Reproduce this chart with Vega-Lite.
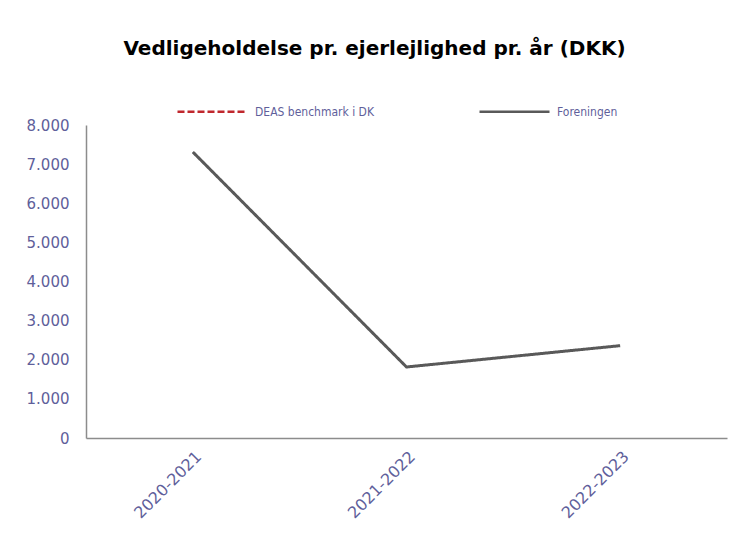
{
  "$schema": "https://vega.github.io/schema/vega-lite/v6.json",
  "width": 641,
  "height": 313,
  "autosize": "none",
  "padding": {"left": 86, "top": 125, "right": 9, "bottom": 96},
  "background": "white",
  "title": {
    "text": "Vedligeholdelse pr. ejerlejlighed pr. år (DKK)",
    "font": "DejaVu Sans",
    "fontSize": 20,
    "fontWeight": "bold",
    "color": "#000000",
    "anchor": "middle",
    "offset": 16,
    "dx": -32
  },
  "data": {
    "values": [
      {"periode": "2020-2021", "serie": "Foreningen", "vaerdi": 7310},
      {"periode": "2021-2022", "serie": "Foreningen", "vaerdi": 1815},
      {"periode": "2022-2023", "serie": "Foreningen", "vaerdi": 2360}
    ]
  },
  "mark": {"type": "line", "strokeWidth": 3},
  "encoding": {
    "x": {
      "field": "periode",
      "type": "ordinal",
      "scale": {"type": "point", "padding": 0.5},
      "axis": {
        "title": null,
        "labelAngle": -45,
        "labelFont": "DejaVu Sans",
        "labelFontSize": 16,
        "labelColor": "#5f5f9b",
        "ticks": false,
        "tickSize": 0,
        "labelPadding": 10,
        "domainColor": "#8c8c8c",
        "domainWidth": 1.5,
        "grid": false
      }
    },
    "y": {
      "field": "vaerdi",
      "type": "quantitative",
      "scale": {"domain": [0, 8000], "nice": false},
      "axis": {
        "title": null,
        "values": [0, 1000, 2000, 3000, 4000, 5000, 6000, 7000, 8000],
        "labelExpr": "replace(format(datum.value, ','), ',', '.')",
        "labelFont": "DejaVu Sans",
        "labelFontSize": 15,
        "labelColor": "#5f5f9b",
        "ticks": false,
        "tickSize": 0,
        "labelPadding": 17,
        "domainColor": "#8c8c8c",
        "domainWidth": 1.5,
        "grid": false
      }
    },
    "color": {
      "field": "serie",
      "type": "nominal",
      "scale": {"domain": ["DEAS benchmark i DK", "Foreningen"], "range": ["#c0272d", "#595959"]},
      "legend": {
        "title": null,
        "orient": "none",
        "direction": "horizontal",
        "legendX": 90,
        "legendY": -50,
        "symbolType": "stroke",
        "symbolSize": 4900,
        "symbolStrokeWidth": 2.5,
        "labelFont": "DejaVu Sans Condensed",
        "labelFontSize": 12,
        "labelColor": "#5f5f9b",
        "columnPadding": 100,
        "labelOffset": 6
      }
    },
    "strokeDash": {
      "field": "serie",
      "type": "nominal",
      "scale": {"domain": ["DEAS benchmark i DK", "Foreningen"], "range": [[7, 3], [1, 0]]},
      "legend": {
        "title": null,
        "orient": "none",
        "direction": "horizontal",
        "legendX": 90,
        "legendY": -50,
        "symbolType": "stroke",
        "symbolSize": 4900,
        "symbolStrokeWidth": 2.5,
        "labelFont": "DejaVu Sans Condensed",
        "labelFontSize": 12,
        "labelColor": "#5f5f9b",
        "columnPadding": 100,
        "labelOffset": 6
      }
    }
  },
  "config": {"view": {"stroke": null}}
}
